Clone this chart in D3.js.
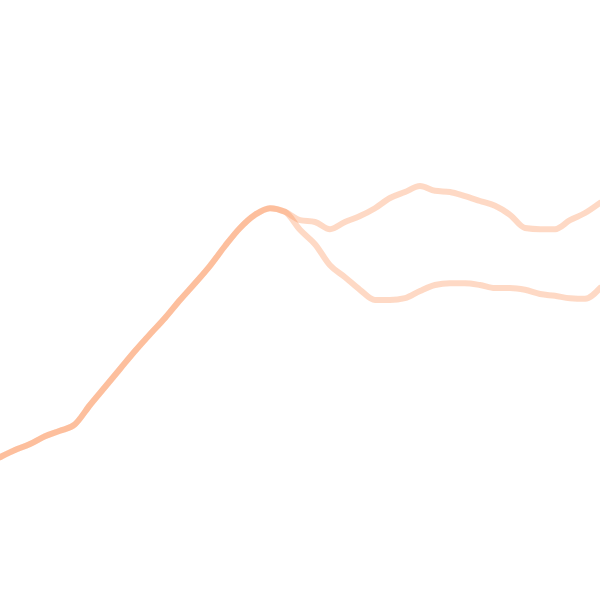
<!DOCTYPE html>
<html>
<head>
<meta charset="utf-8">
<script src="https://cdn.jsdelivr.net/npm/d3@7"></script>
<style>
  html, body { margin: 0; padding: 0; background: #fff; }
  svg { display: block; }
</style>
</head>
<body>
<div id="chart"></div>
<script>
// step index on x, value on y (0..100)
const steps = d3.range(0, 41);
const sharedValues = [23.8, 25, 26, 27.3, 28.2, 29.3, 32.5, 35.5, 38.5, 41.5, 44.3, 47, 50, 52.8, 55.7, 59, 62, 64.2, 65.3, 64.7];
const upperValues = [63.3, 63, 61.8, 63, 64, 65.3, 67, 68, 69, 68.2, 68, 67.3, 66.5, 65.7, 64.2, 62, 61.8, 61.8, 63.3, 64.5, 66.2];
const lowerValues = [61.7, 59.3, 55.8, 53.8, 51.7, 50, 50, 50.3, 51.5, 52.5, 52.8, 52.8, 52.5, 52, 52, 51.7, 51, 50.7, 50.3, 50.2, 52];

const seriesA = sharedValues.concat(upperValues);
const seriesB = sharedValues.concat(lowerValues);

const width = 600, height = 600;

const svg = d3.select("#chart")
  .append("svg")
  .attr("width", width)
  .attr("height", height);

const x = d3.scaleLinear().domain([0, 40]).range([0, width]);
const y = d3.scaleLinear().domain([0, 100]).range([height, 0]);

const line = d3.line()
  .x((d, i) => x(steps[i]))
  .y(d => y(d))
  .curve(d3.curveMonotoneX);

// two translucent lines; where they overlap the colour gets darker
svg.selectAll("path.series")
  .data([seriesA, seriesB])
  .enter()
  .append("path")
  .attr("class", "series")
  .attr("d", line)
  .attr("fill", "none")
  .attr("stroke", "#fc8a4a")
  .attr("stroke-opacity", 0.32)
  .attr("stroke-width", 6)
  .attr("stroke-linejoin", "round")
  .attr("stroke-linecap", "round");
</script>
</body>
</html>
